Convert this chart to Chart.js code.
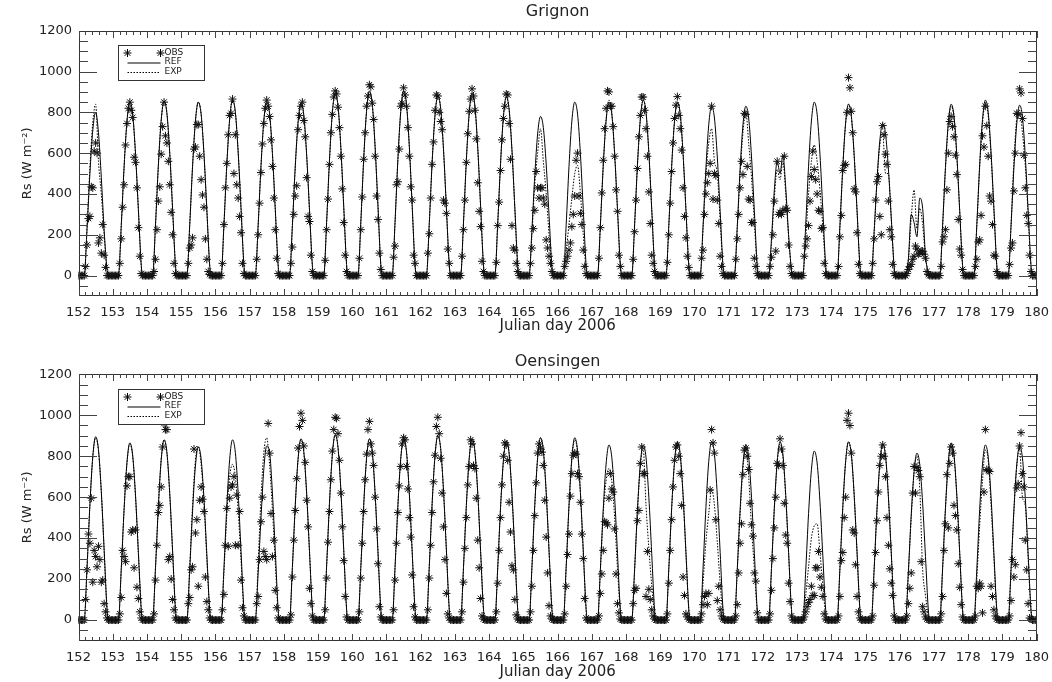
<!DOCTYPE html>
<html>
<head>
<meta charset="utf-8">
<title>Rs Grignon / Oensingen</title>
<script src="https://cdn.jsdelivr.net/npm/chart.js@4.4.1/dist/chart.umd.min.js"></script>
<style>
  html, body { margin: 0; padding: 0; background: #fff; }
  #wrap { position: relative; width: 1052px; height: 682px; }
  .panel { position: absolute; left: 0; width: 1052px; height: 341px; }
</style>
</head>
<body>
<div id="wrap">
  <div class="panel" style="top:0"><canvas id="grignon" width="1052" height="341"></canvas></div>
  <div class="panel" style="top:341px"><canvas id="oensingen" width="1052" height="341"></canvas></div>
</div>
<script>
// julian days shown, one diurnal cycle each
const days = [152, 153, 154, 155, 156, 157, 158, 159, 160, 161, 162, 163, 164, 165,
              166, 167, 168, 169, 170, 171, 172, 173, 174, 175, 176, 177, 178, 179];
const xTicks = [152, 153, 154, 155, 156, 157, 158, 159, 160, 161, 162, 163, 164, 165, 166,
                167, 168, 169, 170, 171, 172, 173, 174, 175, 176, 177, 178, 179, 180];
const yTicks = [0, 200, 400, 600, 800, 1000, 1200];

// hours of the day for the observed values (daytime) and the model lines
const obsHours = [5, 6, 7, 8, 9, 10, 11, 12, 13, 14, 15, 16, 17, 18, 19, 20];
const obsNightHours = [0, 1, 2, 3, 4, 21, 22, 23];
const lineHours = [6, 8, 10, 12, 14, 16, 18, 20];
const lineNightHours = [4, 21];
const nightValue = 0;

// ---- Grignon (W m-2) ----
const grignonObs = [
  [45, 150, 280, 290, 435, 430, 610, 650, 600, 160, 185, 110, 250, 100, 40, 0],
  [60, 180, 335, 445, 640, 745, 820, 850, 810, 775, 580, 555, 430, 235, 95, 10],
  [20, 80, 225, 365, 435, 595, 730, 850, 685, 650, 560, 445, 310, 200, 60, 10],
  [60, 135, 150, 185, 620, 630, 740, 740, 585, 470, 395, 335, 180, 80, 20, 5],
  [60, 250, 430, 550, 690, 785, 795, 865, 500, 690, 445, 380, 290, 210, 60, 10],
  [80, 200, 355, 505, 645, 745, 820, 860, 830, 780, 665, 535, 380, 225, 85, 10],
  [60, 140, 300, 390, 440, 715, 785, 830, 850, 760, 680, 480, 290, 265, 100, 20],
  [75, 225, 375, 545, 700, 790, 875, 905, 890, 825, 725, 585, 425, 260, 100, 20],
  [85, 225, 385, 570, 700, 830, 880, 935, 925, 845, 765, 585, 390, 275, 110, 30],
  [90, 145, 445, 460, 620, 830, 845, 920, 885, 830, 725, 585, 435, 370, 100, 60],
  [110, 205, 380, 545, 655, 810, 885, 880, 800, 755, 715, 370, 355, 305, 130, 60],
  [95, 225, 370, 555, 695, 805, 865, 915, 880, 810, 670, 455, 315, 240, 70, 20],
  [65, 245, 360, 515, 665, 770, 830, 890, 885, 745, 570, 245, 135, 125, 60, 20],
  [60, 135, 230, 320, 510, 430, 380, 430, 430, 380, 350, 175, 135, 95, 60, 20],
  [45, 70, 95, 125, 160, 240, 300, 390, 565, 600, 390, 305, 250, 125, 45, 10],
  [85, 235, 405, 565, 720, 820, 905, 900, 830, 830, 730, 585, 420, 315, 100, 45],
  [80, 215, 370, 525, 680, 785, 875, 875, 810, 720, 585, 410, 255, 100, 60, 20],
  [65, 200, 355, 510, 650, 770, 835, 877, 785, 720, 615, 430, 290, 185, 95, 40],
  [85, 125, 300, 400, 455, 500, 550, 830, 375, 500, 490, 370, 255, 95, 45, 10],
  [80, 180, 300, 430, 560, 495, 795, 790, 535, 375, 370, 260, 260, 85, 45, 10],
  [45, 90, 200, 365, 120, 560, 300, 310, 300, 320, 585, 330, 320, 150, 45, 10],
  [95, 145, 180, 245, 365, 485, 610, 520, 470, 400, 320, 315, 230, 235, 60, 10],
  [45, 190, 295, 515, 540, 545, 800, 970, 920, 805, 700, 425, 410, 210, 55, 10],
  [60, 180, 370, 460, 485, 290, 200, 735, 690, 595, 545, 365, 225, 190, 55, 10],
  [10, 30, 45, 55, 80, 95, 145, 130, 105, 110, 120, 120, 105, 85, 20, 5],
  [45, 165, 190, 225, 420, 600, 755, 780, 730, 680, 590, 495, 275, 130, 100, 30],
  [45, 80, 165, 175, 295, 685, 630, 830, 735, 585, 390, 365, 250, 100, 95, 20],
  [55, 135, 160, 415, 600, 795, 790, 915, 895, 770, 590, 430, 295, 255, 100, 20]
];
const grignonRef = [
  [230, 500, 710, 800, 700, 480, 220, 30],
  [247, 536, 757, 850, 791, 595, 323, 51],
  [248, 539, 761, 855, 795, 599, 325, 51],
  [247, 536, 757, 850, 791, 595, 323, 51],
  [249, 542, 765, 860, 800, 602, 327, 52],
  [248, 539, 761, 855, 795, 599, 325, 51],
  [245, 532, 752, 845, 786, 592, 321, 51],
  [260, 564, 797, 895, 832, 627, 340, 54],
  [262, 570, 805, 905, 842, 634, 344, 54],
  [262, 570, 805, 905, 842, 634, 344, 54],
  [255, 554, 783, 880, 818, 616, 334, 53],
  [260, 564, 797, 895, 832, 627, 340, 54],
  [254, 551, 779, 875, 814, 613, 333, 53],
  [226, 491, 694, 780, 725, 546, 296, 47],
  [247, 536, 757, 850, 791, 595, 323, 51],
  [247, 536, 757, 850, 791, 595, 323, 51],
  [249, 542, 765, 860, 800, 602, 327, 52],
  [247, 536, 757, 850, 791, 595, 323, 51],
  [241, 523, 739, 830, 772, 581, 315, 50],
  [241, 523, 739, 830, 772, 581, 315, 50],
  [180, 420, 560, 500, 590, 430, 200, 30],
  [247, 536, 757, 850, 791, 595, 323, 51],
  [244, 529, 748, 840, 781, 588, 319, 50],
  [216, 469, 663, 745, 693, 522, 283, 45],
  [80, 300, 260, 190, 380, 330, 100, 15],
  [244, 529, 748, 840, 781, 588, 319, 50],
  [249, 542, 765, 860, 800, 602, 327, 52],
  [242, 526, 743, 835, 777, 585, 317, 50]
];
const grignonExp = [
  [240, 530, 750, 840, 560, 400, 200, 30],
  [245, 535, 755, 850, 790, 595, 323, 51],
  [248, 539, 761, 855, 795, 599, 325, 51],
  [247, 536, 757, 850, 791, 595, 323, 51],
  [249, 542, 765, 860, 800, 602, 327, 52],
  [248, 539, 761, 855, 795, 599, 325, 51],
  [245, 532, 752, 845, 786, 592, 321, 51],
  [258, 561, 792, 890, 828, 623, 338, 53],
  [261, 567, 801, 900, 837, 630, 342, 54],
  [262, 570, 805, 905, 842, 634, 344, 54],
  [255, 554, 783, 880, 818, 616, 334, 53],
  [258, 561, 792, 890, 828, 623, 338, 53],
  [254, 551, 779, 875, 814, 613, 333, 53],
  [200, 450, 600, 720, 560, 400, 200, 30],
  [120, 250, 380, 500, 540, 400, 200, 30],
  [249, 542, 765, 860, 800, 602, 327, 52],
  [249, 542, 765, 860, 800, 602, 327, 52],
  [247, 536, 757, 850, 791, 595, 323, 51],
  [230, 490, 650, 720, 560, 500, 270, 40],
  [230, 500, 700, 800, 650, 480, 260, 40],
  [160, 380, 520, 470, 560, 400, 190, 30],
  [180, 400, 560, 640, 560, 420, 240, 40],
  [244, 529, 748, 840, 781, 588, 319, 50],
  [210, 460, 640, 700, 500, 500, 280, 40],
  [80, 280, 420, 230, 330, 250, 90, 15],
  [241, 523, 739, 830, 772, 581, 315, 50],
  [244, 529, 748, 840, 781, 588, 319, 50],
  [250, 560, 770, 810, 700, 540, 300, 45]
];

// ---- Oensingen (W m-2) ----
const oensingenObs = [
  [100, 245, 420, 375, 595, 185, 340, 310, 260, 360, 295, 185, 195, 80, 40, 10],
  [30, 110, 340, 310, 285, 655, 700, 700, 430, 440, 255, 440, 160, 105, 40, 10],
  [30, 195, 365, 525, 560, 650, 845, 960, 930, 930, 295, 310, 200, 100, 50, 10],
  [80, 110, 245, 260, 835, 425, 490, 165, 585, 650, 590, 530, 210, 90, 50, 10],
  [50, 125, 365, 545, 360, 595, 650, 660, 700, 365, 610, 365, 530, 195, 60, 20],
  [80, 115, 295, 480, 600, 335, 310, 295, 960, 815, 520, 310, 390, 145, 60, 10],
  [25, 210, 390, 535, 690, 840, 945, 1010, 975, 850, 770, 585, 455, 155, 80, 20],
  [50, 205, 380, 530, 685, 825, 930, 990, 985, 910, 780, 620, 455, 290, 115, 15],
  [40, 205, 375, 530, 685, 810, 930, 970, 860, 815, 755, 600, 445, 275, 65, 15],
  [50, 195, 375, 525, 655, 750, 860, 890, 880, 750, 640, 500, 405, 220, 65, 15],
  [50, 205, 365, 525, 675, 805, 945, 990, 910, 790, 620, 455, 295, 130, 30, 10],
  [40, 185, 350, 500, 660, 750, 880, 860, 755, 740, 595, 390, 255, 105, 20, 5],
  [40, 180, 340, 500, 660, 800, 865, 855, 780, 575, 430, 265, 245, 100, 25, 5],
  [40, 165, 340, 510, 670, 815, 860, 840, 820, 755, 585, 405, 230, 70, 20, 5],
  [30, 165, 320, 420, 605, 715, 805, 815, 810, 715, 700, 575, 420, 300, 105, 10],
  [20, 130, 225, 340, 480, 475, 465, 595, 715, 640, 625, 445, 225, 80, 35, 5],
  [80, 145, 155, 485, 535, 765, 845, 715, 715, 115, 335, 150, 100, 50, 20, 5],
  [30, 180, 340, 490, 650, 780, 845, 855, 800, 715, 560, 210, 120, 30, 15, 5],
  [30, 75, 115, 130, 75, 130, 635, 930, 865, 815, 490, 95, 165, 50, 20, 5],
  [20, 75, 230, 375, 470, 710, 830, 840, 800, 735, 570, 465, 410, 230, 190, 35],
  [30, 145, 300, 450, 600, 765, 755, 885, 835, 755, 570, 415, 375, 180, 90, 20],
  [15, 40, 65, 85, 100, 165, 120, 120, 255, 255, 335, 210, 160, 115, 30, 5],
  [20, 115, 290, 330, 500, 600, 975, 1010, 950, 815, 440, 425, 270, 115, 40, 10],
  [20, 170, 330, 485, 625, 755, 800, 855, 800, 700, 500, 365, 250, 180, 120, 20],
  [20, 80, 155, 230, 620, 750, 620, 745, 730, 700, 285, 65, 40, 15, 5, 0],
  [30, 115, 340, 470, 710, 450, 765, 845, 815, 560, 510, 440, 275, 160, 75, 15],
  [20, 165, 155, 180, 165, 35, 625, 930, 735, 730, 725, 165, 115, 50, 20, 5],
  [20, 95, 295, 210, 270, 645, 665, 850, 915, 715, 650, 390, 245, 80, 10, 5]
];
const oensingenRef = [
  [260, 564, 797, 895, 832, 627, 340, 54],
  [251, 545, 770, 865, 804, 606, 329, 52],
  [255, 554, 783, 880, 818, 616, 334, 53],
  [245, 532, 752, 845, 786, 592, 321, 51],
  [255, 554, 783, 880, 818, 616, 334, 53],
  [230, 500, 740, 850, 820, 620, 340, 55],
  [257, 558, 788, 885, 823, 620, 336, 53],
  [262, 570, 805, 905, 842, 634, 344, 54],
  [257, 558, 788, 885, 823, 620, 336, 53],
  [257, 558, 788, 885, 823, 620, 336, 53],
  [261, 567, 801, 900, 837, 630, 342, 54],
  [257, 558, 788, 885, 823, 620, 336, 53],
  [254, 551, 779, 875, 814, 613, 333, 53],
  [258, 561, 792, 890, 828, 623, 338, 53],
  [258, 561, 792, 890, 828, 623, 338, 53],
  [248, 539, 761, 855, 795, 599, 325, 51],
  [248, 539, 761, 855, 795, 599, 325, 51],
  [252, 548, 774, 870, 809, 609, 331, 52],
  [252, 548, 774, 870, 809, 609, 331, 52],
  [248, 539, 761, 855, 795, 599, 325, 51],
  [252, 548, 774, 870, 809, 609, 331, 52],
  [239, 520, 734, 825, 767, 578, 314, 50],
  [252, 548, 774, 870, 809, 609, 331, 52],
  [249, 542, 765, 860, 800, 602, 327, 52],
  [236, 513, 725, 815, 758, 571, 310, 49],
  [251, 545, 770, 865, 804, 606, 329, 52],
  [248, 539, 761, 855, 795, 599, 325, 51],
  [247, 536, 757, 850, 791, 595, 323, 51]
];
const oensingenExp = [
  [258, 561, 792, 890, 828, 623, 338, 53],
  [250, 542, 766, 860, 800, 602, 327, 52],
  [255, 554, 783, 880, 818, 616, 334, 53],
  [260, 560, 780, 850, 760, 570, 300, 45],
  [230, 510, 700, 760, 700, 530, 290, 45],
  [280, 600, 820, 890, 760, 540, 280, 40],
  [255, 554, 783, 880, 818, 616, 334, 53],
  [262, 570, 805, 905, 842, 634, 344, 54],
  [257, 558, 788, 885, 823, 620, 336, 53],
  [257, 558, 788, 885, 823, 620, 336, 53],
  [261, 567, 801, 900, 837, 630, 342, 54],
  [257, 558, 788, 885, 823, 620, 336, 53],
  [254, 551, 779, 875, 814, 613, 333, 53],
  [258, 561, 792, 890, 828, 623, 338, 53],
  [255, 554, 783, 880, 818, 616, 334, 53],
  [240, 520, 680, 740, 680, 500, 250, 40],
  [240, 530, 750, 840, 560, 350, 170, 30],
  [251, 545, 770, 865, 804, 606, 329, 52],
  [180, 380, 520, 640, 560, 380, 180, 30],
  [240, 520, 740, 840, 700, 450, 250, 40],
  [249, 542, 765, 860, 800, 602, 327, 52],
  [120, 260, 400, 460, 470, 330, 170, 25],
  [252, 548, 774, 870, 809, 609, 331, 52],
  [249, 542, 765, 860, 800, 602, 327, 52],
  [230, 500, 720, 800, 640, 250, 120, 20],
  [249, 542, 765, 860, 800, 602, 327, 52],
  [200, 460, 680, 830, 780, 560, 300, 45],
  [240, 530, 750, 840, 600, 560, 300, 45]
];

const FONT = '"DejaVu Sans", "Liberation Sans", sans-serif';
const INK = '#222';

function obsPoints(values) {
  const pts = [];
  days.forEach((d, i) => {
    obsNightHours.filter(h => h < 12).forEach(h => pts.push({ x: d + h / 24, y: nightValue }));
    obsHours.forEach((h, j) => pts.push({ x: d + h / 24, y: values[i][j] }));
    obsNightHours.filter(h => h > 12).forEach(h => pts.push({ x: d + h / 24, y: nightValue }));
  });
  return pts;
}

function linePoints(values) {
  const pts = [{ x: days[0], y: nightValue }];
  days.forEach((d, i) => {
    pts.push({ x: d + lineNightHours[0] / 24, y: nightValue });
    lineHours.forEach((h, j) => pts.push({ x: d + h / 24, y: values[i][j] }));
    pts.push({ x: d + lineNightHours[1] / 24, y: nightValue });
  });
  pts.push({ x: xTicks[xTicks.length - 1], y: nightValue });
  return pts;
}

// IDL style box: frame, inward ticks and the little legend box
const idlFrame = {
  id: 'idlFrame',
  afterDraw(chart) {
    const ctx = chart.ctx;
    const a = chart.chartArea;
    const xs = chart.scales.x, ys = chart.scales.y;
    const L = Math.round(a.left), R = Math.round(a.right) - 1;
    const T = Math.round(a.top), B = Math.round(a.bottom) - 1;
    ctx.save();
    ctx.fillStyle = '#333';
    // frame
    ctx.fillRect(L, T, R - L + 1, 1);
    ctx.fillRect(L, B, R - L + 1, 1);
    ctx.fillRect(L, T, 1, B - T + 1);
    ctx.fillRect(R, T, 1, B - T + 1);
    // x ticks every 0.2 day, longer on whole days
    ctx.fillStyle = '#444';
    for (let k = 0; k <= 140; k++) {
      const px = Math.round(xs.getPixelForValue(152 + k * 0.2));
      const len = k % 5 === 0 ? 7 : 4;
      ctx.fillRect(px, B - len + 1, 1, len);
      ctx.fillRect(px, T, 1, len);
    }
    // y ticks every 50, longer on labelled values
    for (let v = -50; v < 1200; v += 50) {
      const py = Math.round(ys.getPixelForValue(v));
      const len = (v >= 0 && v % 200 === 0) ? 18 : 9;
      ctx.fillRect(L, py, len, 1);
      ctx.fillRect(R - len + 1, py, len, 1);
    }

    // legend
    const bx = Math.round(a.left + 39) + 0.5, by = Math.round(a.top + 14.5) + 0.5;
    const ds = chart.data.datasets;
    ctx.fillStyle = '#fff';
    ctx.fillRect(bx, by, 86, 35);
    ctx.lineWidth = 1;
    ctx.setLineDash([]);
    ctx.strokeStyle = '#333';
    ctx.strokeRect(bx, by, 86, 35);
    ctx.font = '9px ' + FONT;
    ctx.textBaseline = 'middle';
    ctx.textAlign = 'left';
    ctx.fillStyle = INK;
    ctx.strokeStyle = '#000';
    const star = { pointStyle: 'star', radius: 4, borderWidth: 1, rotation: 0 };
    Chart.helpers.drawPoint(ctx, star, bx + 9, by + 7.5);
    Chart.helpers.drawPoint(ctx, star, bx + 42, by + 7.5);
    ctx.fillText(ds[0].label, bx + 46, by + 7);
    ctx.beginPath();
    ctx.moveTo(bx + 9, by + 17.5); ctx.lineTo(bx + 42, by + 17.5);
    ctx.stroke();
    ctx.fillText(ds[1].label, bx + 46, by + 16);
    ctx.beginPath();
    ctx.setLineDash(ds[2].borderDash);
    ctx.moveTo(bx + 9, by + 27); ctx.lineTo(bx + 42, by + 27);
    ctx.stroke();
    ctx.setLineDash([]);
    ctx.fillText(ds[2].label, bx + 46, by + 26);
    ctx.restore();
  }
};

function makePanel(id, name, obs, ref, exp, lay) {
  return new Chart(document.getElementById(id), {
    type: 'line',
    data: {
      datasets: [
        {
          label: 'OBS', data: obsPoints(obs), showLine: false,
          pointStyle: 'star', pointRadius: 4, pointBorderWidth: 1,
          pointBorderColor: '#111', pointBackgroundColor: '#111'
        },
        {
          label: 'REF', data: linePoints(ref), borderColor: '#000', borderWidth: 1,
          pointRadius: 0, cubicInterpolationMode: 'monotone'
        },
        {
          label: 'EXP', data: linePoints(exp), borderColor: '#000', borderWidth: 1,
          borderDash: [1.5, 1.5], pointRadius: 0, cubicInterpolationMode: 'monotone'
        }
      ]
    },
    options: {
      responsive: false,
      animation: false,
      devicePixelRatio: 1,
      events: [],
      layout: { padding: { left: 0, right: 15.3, top: 0, bottom: 0 } },
      plugins: {
        legend: { display: false },
        tooltip: { enabled: false },
        title: {
          display: true, text: name, color: INK, fullSize: false,
          font: { family: FONT, size: 16, weight: 'normal', lineHeight: 1.2 },
          padding: lay.title
        }
      },
      scales: {
        x: {
          type: 'linear', min: xTicks[0], max: xTicks[xTicks.length - 1],
          afterBuildTicks: s => { s.ticks = xTicks.map(v => ({ value: v })); },
          afterFit: s => { s.height = lay.xHeight; s.paddingLeft = 0; s.paddingRight = 0; },
          grid: { display: false, drawTicks: false },
          border: { display: false },
          ticks: {
            autoSkip: false, maxRotation: 0, padding: 9, color: INK,
            font: { family: FONT, size: 13 },
            callback: v => String(v)
          },
          title: {
            display: true, text: 'Julian day 2006', color: INK,
            font: { family: FONT, size: 15, lineHeight: 1.2 },
            padding: { top: 0, bottom: lay.xTitle }
          }
        },
        y: {
          min: -100, max: 1200,
          afterBuildTicks: s => { s.ticks = yTicks.map(v => ({ value: v })); },
          afterFit: s => { s.width = 78.5; s.paddingTop = 0; s.paddingBottom = 0; },
          grid: { display: false, drawTicks: false },
          border: { display: false },
          ticks: {
            padding: 6.5, color: INK,
            font: { family: FONT, size: 13 },
            callback: v => String(v)
          },
          title: {
            display: true, text: 'Rs (W m⁻²)', color: INK,
            font: { family: FONT, size: 13, lineHeight: 1.2 },
            padding: { top: 20, bottom: 0 }
          }
        }
      }
    },
    plugins: [idlFrame]
  });
}

makePanel('grignon', 'Grignon', grignonObs, grignonRef, grignonExp,
  { title: { top: 2, bottom: 9.5 }, xHeight: 45, xTitle: 6 });
makePanel('oensingen', 'Oensingen', oensingenObs, oensingenRef, oensingenExp,
  { title: { top: 11, bottom: 3.1 }, xHeight: 41.5, xTitle: 1 });
</script>
</body>
</html>
